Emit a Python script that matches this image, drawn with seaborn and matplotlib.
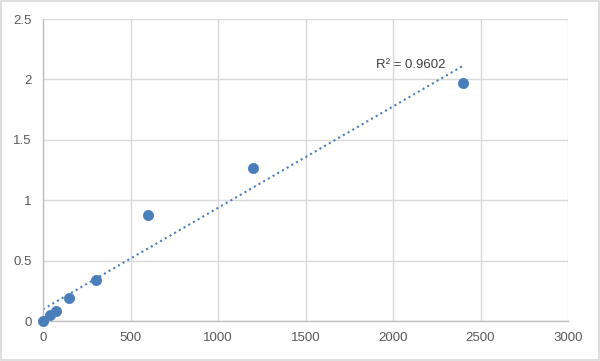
import numpy as np
import pandas as pd
import seaborn as sns
import matplotlib
matplotlib.use("Agg")
import matplotlib.pyplot as plt

conc = [0, 37.5, 75, 150, 300, 600, 1200, 2400]
od = [0.0, 0.05, 0.085, 0.19, 0.34, 0.875, 1.265, 1.97]
r2_label = "R² = 0.9602"

sns.set_theme(style="white")
plt.rcParams['font.family'] = ['Liberation Sans', 'DejaVu Sans']

df = pd.DataFrame({"conc": conc, "od": od})

fig = plt.figure(figsize=(6.0, 3.61), dpi=100)
ax = fig.add_axes([43/600, 1-321/361, (568-43)/600, (321-19)/361])

# border
fig.patches.append(plt.Rectangle((0.002, 0.003), 0.996, 0.994, transform=fig.transFigure,
                                 fill=False, edgecolor="#d9d9d9", linewidth=1.2))

slope, intercept = np.polyfit(df["conc"], df["od"], 1)
xs = np.array([0, max(conc)])
ax.plot(xs, slope*xs + intercept, linestyle=(0, (1, 1.6)), color="#4a7ebb", linewidth=1.5, zorder=2)

sns.scatterplot(data=df, x="conc", y="od", ax=ax, s=55, color="#4a7ebb",
                edgecolor="#4a7ebb", linewidth=0.5, zorder=3, clip_on=False)

ax.text(1900, 2.12, r2_label, fontsize=9.5, color="#404040", va="center", ha="left")

ax.set_xlim(0, 3000)
ax.set_ylim(0, 2.5)
ax.set_xticks([0, 500, 1000, 1500, 2000, 2500, 3000])
ax.set_yticks([0, 0.5, 1, 1.5, 2, 2.5])
ax.set_yticklabels(["0", "0.5", "1", "1.5", "2", "2.5"])
ax.grid(True, color="#d9d9d9", linewidth=1)
ax.set_axisbelow(True)
for s in ["top", "right"]:
    ax.spines[s].set_visible(False)
for s in ["left", "bottom"]:
    ax.spines[s].set_color("#bfbfbf")
    ax.spines[s].set_linewidth(1)
ax.tick_params(axis="both", labelsize=9.5, colors="#595959", length=0, pad=8)
ax.set_xlabel("")
ax.set_ylabel("")

fig.savefig("out.png", dpi=100)
